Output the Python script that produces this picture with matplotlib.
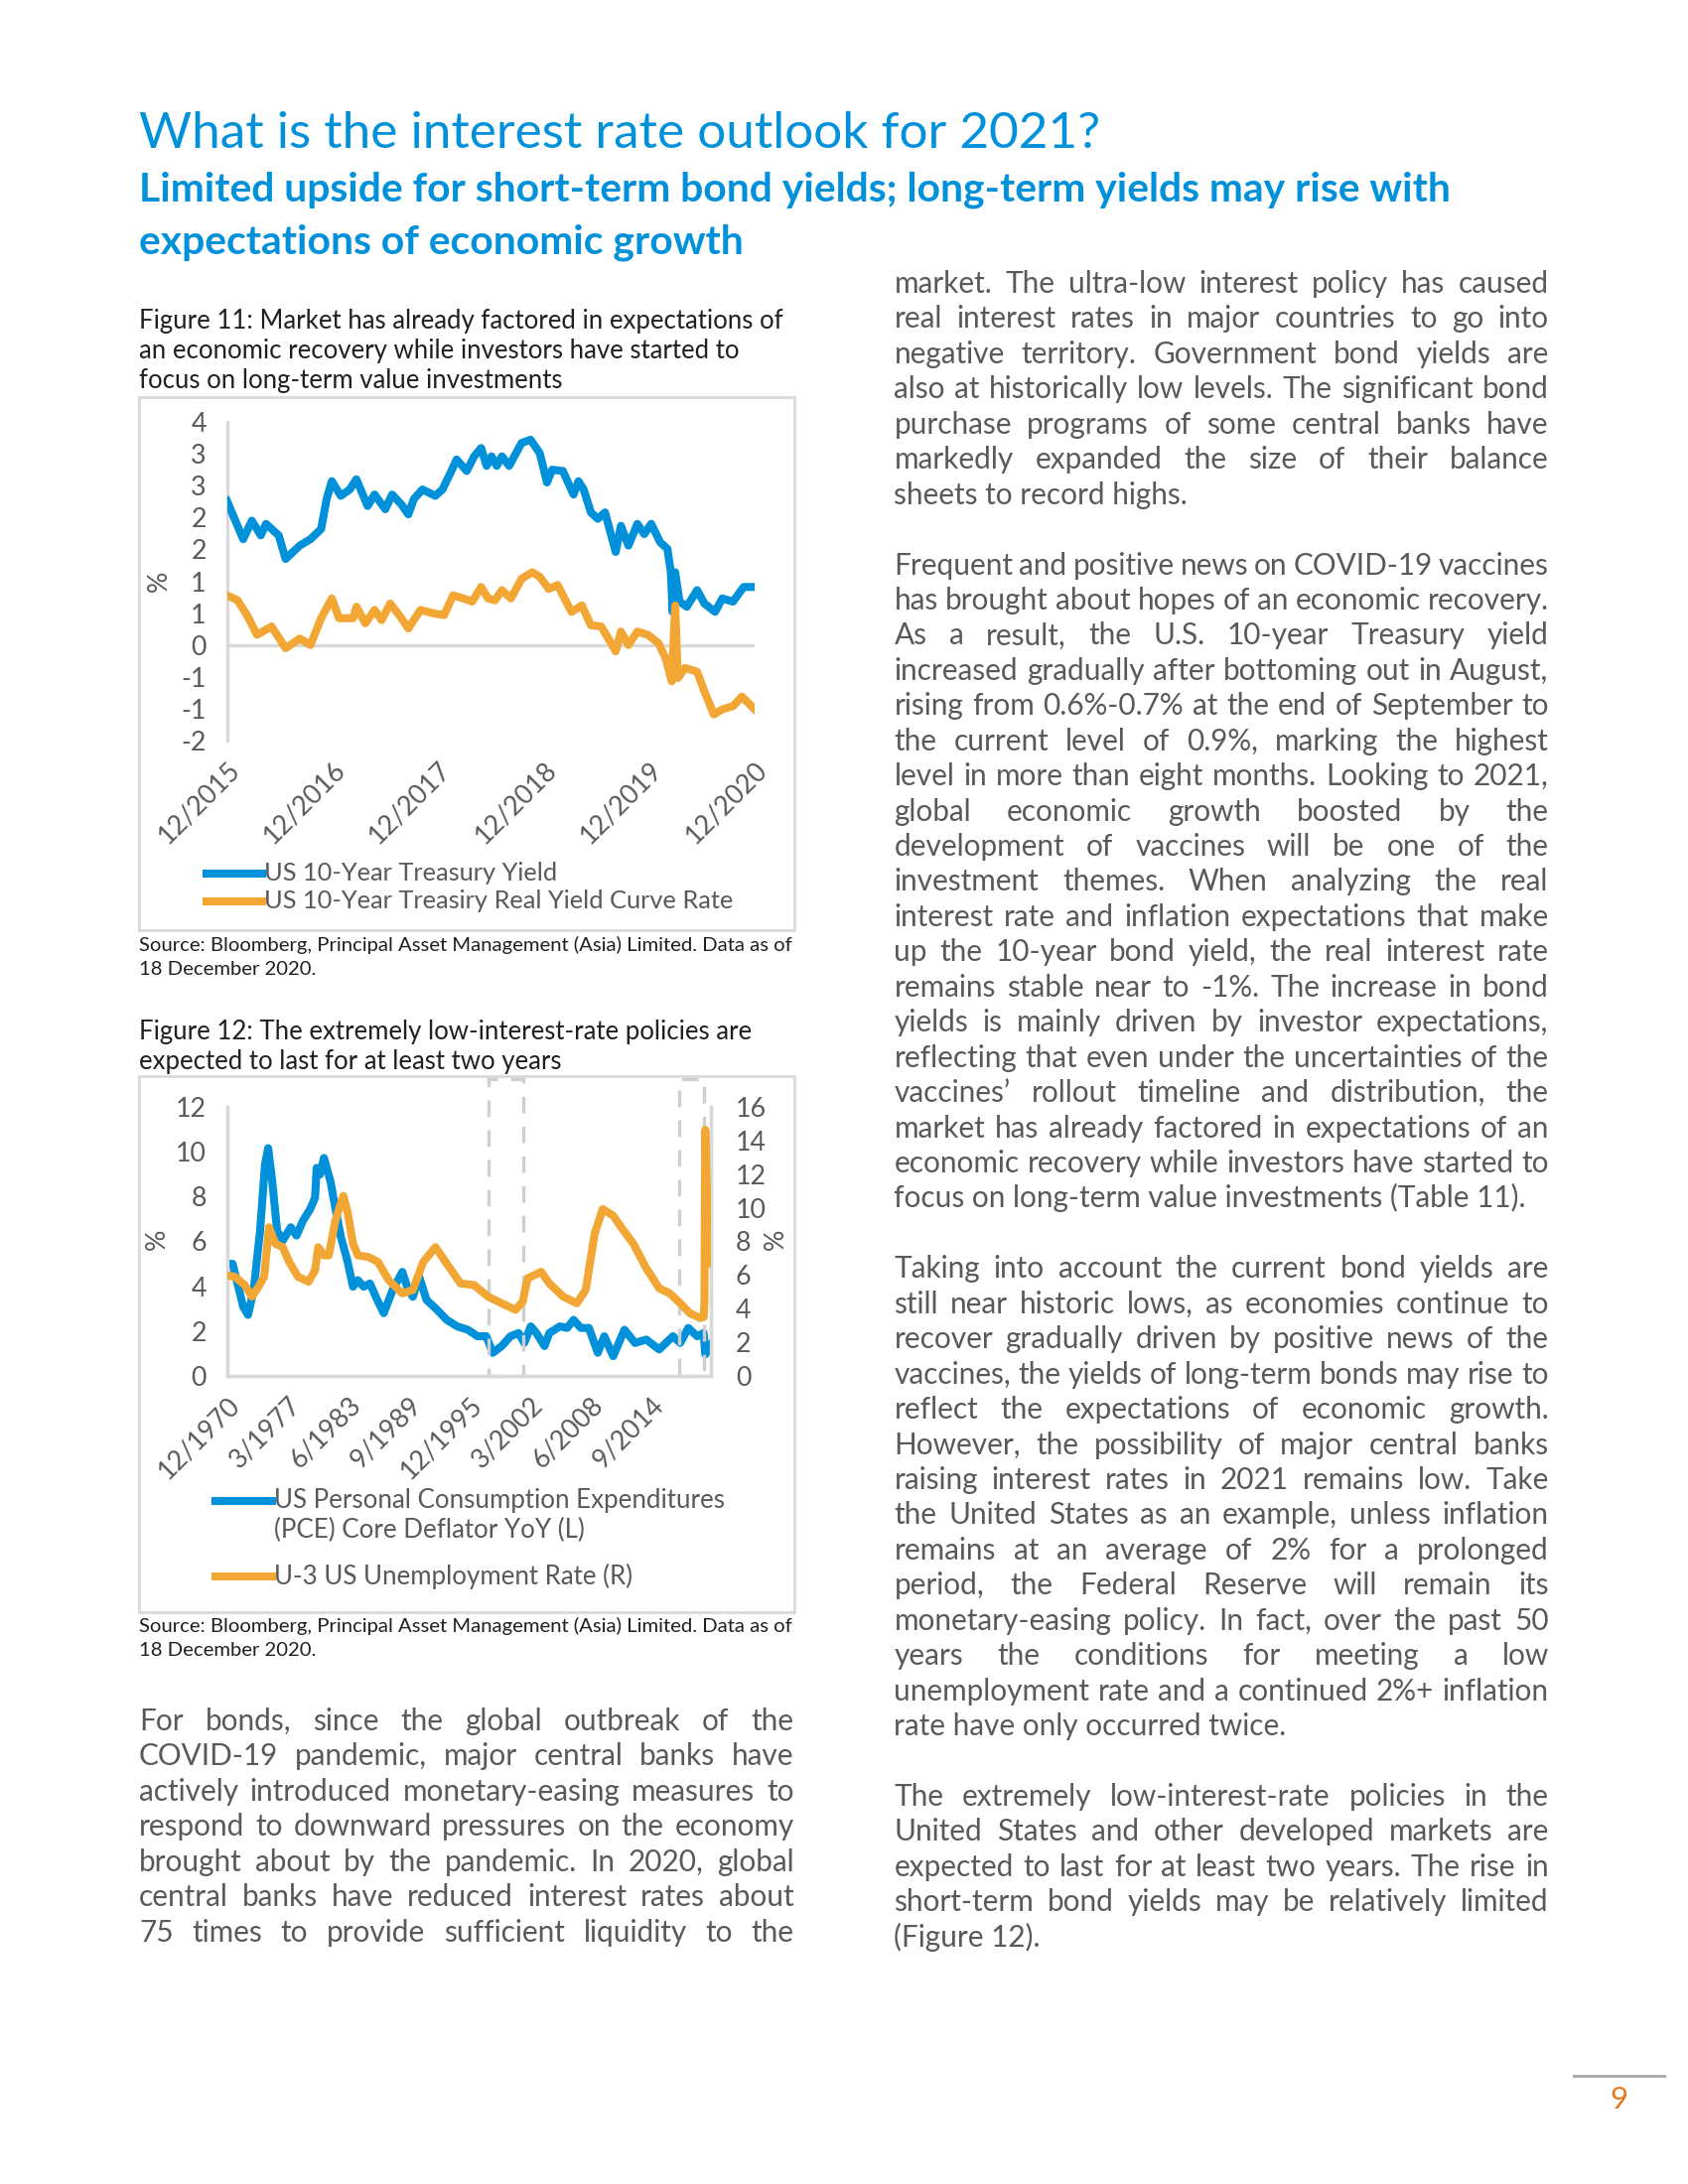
import matplotlib
matplotlib.use('Agg')
import matplotlib.pyplot as plt
from matplotlib.lines import Line2D
from matplotlib.patches import Rectangle
from matplotlib.ticker import FuncFormatter
import numpy as np
import pandas as pd

# ---- figure 11 data ----
ust_dates = ['2015-12-18', '2016-02-12', '2016-03-13', '2016-04-13', '2016-05-01', '2016-06-14',
             '2016-07-08', '2016-08-26', '2016-10-02', '2016-11-08', '2016-11-27', '2016-12-15',
             '2017-01-15', '2017-02-15', '2017-03-10', '2017-04-18', '2017-05-12', '2017-06-18',
             '2017-07-12', '2017-08-12', '2017-09-06', '2017-09-25', '2017-10-25', '2017-12-08',
             '2018-01-02', '2018-02-02', '2018-02-20', '2018-03-27', '2018-04-22', '2018-05-16',
             '2018-06-04', '2018-06-21', '2018-07-09', '2018-07-27', '2018-08-21', '2018-10-03',
             '2018-11-03', '2018-12-05', '2018-12-30', '2019-01-17', '2019-02-23', '2019-04-01',
             '2019-04-18', '2019-05-06', '2019-05-31', '2019-06-24', '2019-07-19', '2019-08-25',
             '2019-09-12', '2019-10-08', '2019-11-08', '2019-12-02', '2019-12-26', '2020-01-26',
             '2020-02-20', '2020-03-03', '2020-03-09', '2020-03-18', '2020-04-02', '2020-04-27',
             '2020-06-02', '2020-06-27', '2020-08-03', '2020-08-28', '2020-10-04', '2020-11-10',
             '2020-12-18']
ust_yield = [2.26, 1.66, 1.95, 1.72, 1.90, 1.72, 1.35, 1.56, 1.66, 1.82, 2.29, 2.57,
             2.34, 2.44, 2.60, 2.18, 2.36, 2.13, 2.36, 2.21, 2.05, 2.29, 2.44, 2.34,
             2.44, 2.73, 2.91, 2.73, 2.96, 3.09, 2.81, 2.96, 2.81, 2.96, 2.81, 3.17,
             3.22, 3.01, 2.55, 2.75, 2.73, 2.36, 2.57, 2.44, 2.08, 1.98, 2.08, 1.46,
             1.87, 1.56, 1.90, 1.74, 1.90, 1.61, 1.51, 1.14, 0.52, 1.14, 0.68, 0.60,
             0.86, 0.65, 0.52, 0.73, 0.68, 0.91, 0.91]

real_dates = ['2015-12-18', '2016-01-24', '2016-02-25', '2016-03-31', '2016-05-20', '2016-07-08',
              '2016-08-26', '2016-10-02', '2016-11-08', '2016-12-15', '2017-01-09', '2017-02-27',
              '2017-03-10', '2017-04-10', '2017-05-12', '2017-06-05', '2017-07-05', '2017-08-05',
              '2017-09-06', '2017-10-18', '2017-12-08', '2018-01-08', '2018-02-08', '2018-03-15',
              '2018-04-15', '2018-05-16', '2018-06-09', '2018-07-03', '2018-07-27', '2018-08-27',
              '2018-10-03', '2018-11-09', '2018-12-05', '2019-01-05', '2019-02-05', '2019-02-23',
              '2019-03-25', '2019-04-30', '2019-05-31', '2019-07-06', '2019-08-25', '2019-09-12',
              '2019-10-08', '2019-11-08', '2019-12-14', '2020-01-20', '2020-02-14', '2020-03-06',
              '2020-03-18', '2020-03-27', '2020-04-21', '2020-06-02', '2020-06-27', '2020-07-30',
              '2020-08-28', '2020-10-04', '2020-11-04', '2020-12-18']
real_yield = [0.78, 0.70, 0.47, 0.16, 0.29, -0.05, 0.10, 0.00, 0.42, 0.73, 0.42, 0.42,
              0.60, 0.34, 0.55, 0.39, 0.65, 0.47, 0.26, 0.55, 0.49, 0.47, 0.78, 0.73,
              0.68, 0.91, 0.73, 0.70, 0.86, 0.73, 1.04, 1.14, 1.07, 0.88, 0.94, 0.78,
              0.52, 0.62, 0.31, 0.29, -0.10, 0.21, 0.00, 0.21, 0.16, 0.03, -0.21, -0.57,
              0.62, -0.52, -0.36, -0.42, -0.73, -1.09, -1.01, -0.96, -0.81, -1.01]

fig11_ticks = ['12/2015', '12/2016', '12/2017', '12/2018', '12/2019', '12/2020']
fig11_names = ['US 10-Year Treasury Yield', 'US 10-Year Treasiry Real Yield Curve Rate']

# ---- figure 12 data ----
pce_dates = ['1970-12', '1971-07', '1972-02', '1972-08', '1973-02', '1973-09', '1974-05', '1974-11',
             '1975-03', '1975-08', '1976-02', '1976-09', '1977-07', '1978-02', '1978-10', '1979-07',
             '1980-01', '1980-03', '1980-07', '1980-12', '1981-08', '1982-02', '1982-09', '1983-05',
             '1983-12', '1984-06', '1985-01', '1985-09', '1986-06', '1987-02', '1988-01', '1989-01',
             '1989-07', '1990-02', '1990-10', '1991-07', '1992-08', '1993-08', '1994-09', '1995-10',
             '1996-10', '1997-09', '1998-05', '1999-04', '2000-03', '2001-01', '2001-08', '2002-04',
             '2002-11', '2003-09', '2004-03', '2005-04', '2006-01', '2006-09', '2007-06', '2008-04',
             '2009-03', '2009-11', '2010-10', '2011-12', '2013-01', '2014-03', '2015-07', '2016-12',
             '2017-09', '2018-07', '2019-06', '2020-02', '2020-04', '2020-11']
pce_core = [5.0, 5.0, 3.98, 3.09, 2.72, 3.83, 6.48, 9.43, 10.16, 8.69,
            6.48, 6.04, 6.63, 6.26, 6.92, 7.44, 7.95, 9.28, 8.98, 9.72,
            8.69, 7.51, 6.19, 5.15, 3.98, 4.27, 3.98, 4.12, 3.39, 2.80,
            3.83, 4.64, 3.98, 3.53, 4.42, 3.39, 2.95, 2.50, 2.21, 2.06,
            1.77, 1.77, 1.03, 1.33, 1.77, 1.91, 1.47, 2.21, 1.91, 1.33,
            1.91, 2.21, 2.14, 2.50, 2.14, 2.14, 1.03, 1.77, 0.88, 2.06,
            1.47, 1.62, 1.18, 1.77, 1.47, 2.14, 1.77, 1.91, 0.96, 1.40]

unemp_dates = ['1970-12', '1971-10', '1972-10', '1973-07', '1974-03', '1974-10', '1975-04', '1975-12',
               '1976-09', '1977-05', '1978-04', '1979-05', '1980-01', '1980-05', '1980-12', '1981-06',
               '1982-02', '1982-12', '1983-05', '1983-12', '1984-06', '1985-07', '1986-07', '1987-08',
               '1989-01', '1990-02', '1991-03', '1992-06', '1993-08', '1995-01', '1996-06', '1997-11',
               '1999-04', '2000-09', '2001-06', '2001-12', '2003-05', '2004-03', '2005-08', '2007-01',
               '2007-12', '2008-11', '2009-09', '2010-10', '2011-08', '2012-11', '2014-02', '2015-07',
               '2016-08', '2017-09', '2018-09', '2019-10', '2020-02', '2020-03', '2020-04', '2020-06',
               '2020-08', '2020-11']
unemp = [5.99, 5.89, 5.40, 4.72, 5.30, 5.89, 8.84, 7.86, 7.66, 6.78,
         5.89, 5.60, 6.29, 7.66, 7.17, 7.17, 9.23, 10.71, 9.82, 7.86,
         7.17, 7.07, 6.78, 5.70, 4.91, 5.11, 6.78, 7.66, 6.68, 5.50,
         5.40, 4.72, 4.32, 3.93, 4.42, 5.80, 6.19, 5.50, 4.72, 4.32,
         5.11, 8.45, 9.92, 9.53, 8.84, 7.86, 6.48, 5.21, 4.91, 4.32,
         3.73, 3.44, 3.50, 4.40, 14.64, 11.10, 8.40, 6.70]

# periods boxed with dashed lines (start, end)
boxed = [('1997-12', '2001-07'), ('2017-08', '2020-02')]

fig12_ticks = ['12/1970', '3/1977', '6/1983', '9/1989', '12/1995', '3/2002', '6/2008', '9/2014']
fig12_names = [['US Personal Consumption Expenditures', '(PCE) Core Deflator YoY (L)'],
               ['U-3 US Unemployment Rate (R)']]

# ---- page text ----
title = 'What is the interest rate outlook for 2021?'
subtitle = ['Limited upside for short-term bond yields; long-term yields may rise with',
            'expectations of economic growth']
cap11 = ['Figure 11: Market has already factored in expectations of',
         'an economic recovery while investors have started to',
         'focus on long-term value investments']
cap12 = ['Figure 12: The extremely low-interest-rate policies are',
         'expected to last for at least two years']
source = ['Source: Bloomberg, Principal Asset Management (Asia) Limited. Data as of',
          '18 December 2020.']

left_par = ['For bonds, since the global outbreak of the',
            'COVID-19 pandemic, major central banks have',
            'actively introduced monetary-easing measures to',
            'respond to downward pressures on the economy',
            'brought about by the pandemic. In 2020, global',
            'central banks have reduced interest rates about',
            '75 times to provide sufficient liquidity to the']

right_pars = [
    ['market. The ultra-low interest policy has caused',
     'real interest rates in major countries to go into',
     'negative territory. Government bond yields are',
     'also at historically low levels. The significant bond',
     'purchase programs of some central banks have',
     'markedly expanded the size of their balance',
     'sheets to record highs.'],
    ['Frequent and positive news on COVID-19 vaccines',
     'has brought about hopes of an economic recovery.',
     'As a result, the U.S. 10-year Treasury yield',
     'increased gradually after bottoming out in August,',
     'rising from 0.6%-0.7% at the end of September to',
     'the current level of 0.9%, marking the highest',
     'level in more than eight months. Looking to 2021,',
     'global economic growth boosted by the',
     'development of vaccines will be one of the',
     'investment themes. When analyzing the real',
     'interest rate and inflation expectations that make',
     'up the 10-year bond yield, the real interest rate',
     'remains stable near to -1%. The increase in bond',
     'yields is mainly driven by investor expectations,',
     'reflecting that even under the uncertainties of the',
     'vaccines\u2019 rollout timeline and distribution, the',
     'market has already factored in expectations of an',
     'economic recovery while investors have started to',
     'focus on long-term value investments (Table 11).'],
    ['Taking into account the current bond yields are',
     'still near historic lows, as economies continue to',
     'recover gradually driven by positive news of the',
     'vaccines, the yields of long-term bonds may rise to',
     'reflect the expectations of economic growth.',
     'However, the possibility of major central banks',
     'raising interest rates in 2021 remains low. Take',
     'the United States as an example, unless inflation',
     'remains at an average of 2% for a prolonged',
     'period, the Federal Reserve will remain its',
     'monetary-easing policy. In fact, over the past 50',
     'years the conditions for meeting a low',
     'unemployment rate and a continued 2%+ inflation',
     'rate have only occurred twice.'],
    ['The extremely low-interest-rate policies in the',
     'United States and other developed markets are',
     'expected to last for at least two years. The rise in',
     'short-term bond yields may be relatively limited',
     '(Figure 12).'],
]

W, H, DPI = 1700, 2200, 200
FONT = 'Lato'
BLUE = '#0091DA'
GOLD = '#F2A634'
BODY = '#58595B'
DARK = '#231F20'
TICK = '#595959'
FRAME = '#D9D9D9'

fig = plt.figure(figsize=(W / DPI, H / DPI), dpi=DPI)
fig.patch.set_facecolor('white')
rend = fig.canvas.get_renderer()


def fx(x):
    return x / W


def fy(y):
    return 1 - y / H


def text_w(s, size, **kw):
    t = fig.text(0, 0, s, fontsize=size, family=FONT, **kw)
    w = t.get_window_extent(rend).width
    t.remove()
    return w


def fit(s, target, **kw):
    return 10 * target / text_w(s, 10, **kw)


def put_line(s, x0, x1, y, size, color, justify):
    if not justify:
        fig.text(fx(x0), fy(y), s, fontsize=size, family=FONT, color=color, va='baseline')
        return
    words = s.split()
    objs = [fig.text(0, fy(y), w, fontsize=size, family=FONT, color=color, va='baseline') for w in words]
    widths = [o.get_window_extent(rend).width for o in objs]
    gap = (x1 - x0 - sum(widths)) / (len(words) - 1)
    x = x0
    for o, w in zip(objs, widths):
        o.set_x(fx(x))
        x += w + gap


body_fs = fit('has brought about hopes of an economic recovery.', 662)
step = 35.44

# headings
title_fs = fit(title, 971)
fig.text(fx(140), fy(149), title, fontsize=title_fs, family=FONT,
         color=BLUE, va='baseline')
sub_fs = fit(subtitle[0], 1325, fontweight='bold')
for i, s in enumerate(subtitle):
    fig.text(fx(140), fy(203 + i * 52), s, fontsize=sub_fs, family=FONT, fontweight='bold',
             color=BLUE, va='baseline')

# captions and sources
cap_fs = fit(cap11[0], 648)
for i, s in enumerate(cap11):
    fig.text(fx(140), fy(331 + i * 30), s, fontsize=cap_fs, family=FONT, color=DARK, va='baseline')
for i, s in enumerate(cap12):
    fig.text(fx(140), fy(1047 + i * 30), s, fontsize=cap_fs, family=FONT, color=DARK, va='baseline')
src_fs = fit(source[0], 658)
for y0 in (958, 1644):
    for i, s in enumerate(source):
        fig.text(fx(140), fy(y0 + i * 24.5), s, fontsize=src_fs, family=FONT, color=DARK, va='baseline')

# body text
for i, s in enumerate(left_par):
    put_line(s, 140, 799.5, 1743 + i * step, body_fs, BODY, True)
row = 0
for par in right_pars:
    for i, s in enumerate(par):
        put_line(s, 900.5, 1559.7, 295 + row * step, body_fs, BODY, i < len(par) - 1)
        row += 1
    row += 1

# chart frames
for top, bot in ((400, 937), (1084, 1624)):
    fig.add_artist(Rectangle((fx(140), fy(bot)), 660 / W, (bot - top) / H, fill=False,
                             ec=FRAME, lw=1.0, transform=fig.transFigure))

leg_fs = fit(fig11_names[1], 475)
tick_fs = leg_fs * 1.05
LW = 2.9


def excel_round(v, _):
    return '%d' % (np.sign(v) * np.floor(abs(v) + 0.5))


def style(ax):
    for sp in ax.spines.values():
        sp.set_color(FRAME)
        sp.set_linewidth(1.2)
    ax.tick_params(length=0, labelsize=tick_fs, labelcolor=TICK)
    for lab in ax.get_yticklabels() + ax.get_xticklabels():
        lab.set_family(FONT)


# ---- figure 11 ----
ax1 = fig.add_axes([fx(228.6), fy(746), (760 - 228.6) / W, (746 - 425) / H])
ax1.axhline(0, color=FRAME, lw=1.2, zorder=1)
ax1.plot(pd.to_datetime(ust_dates), ust_yield, color=BLUE, lw=LW, zorder=3)
ax1.plot(pd.to_datetime(real_dates), real_yield, color=GOLD, lw=LW, zorder=3)
ax1.set_ylim(-1.5, 3.5)
ax1.set_yticks(np.arange(-1.5, 3.51, 0.5))
ax1.yaxis.set_major_formatter(FuncFormatter(excel_round))
t11 = pd.to_datetime(fig11_ticks, format='%m/%Y') + pd.Timedelta(days=17)
ax1.set_xlim(t11[0], t11[-1])
ax1.set_xticks(t11)
ax1.set_xticklabels(fig11_ticks, rotation=45, ha='right', rotation_mode='anchor')
for s in ('top', 'right', 'bottom'):
    ax1.spines[s].set_visible(False)
style(ax1)
ax1.tick_params(axis='y', pad=7.5)
ax1.tick_params(axis='x', pad=6)
fig.text(fx(160), fy(585), '%', rotation=90, ha='center', va='center', fontsize=tick_fs,
         family=FONT, color=TICK)

for k, (name, col) in enumerate(zip(fig11_names, [BLUE, GOLD])):
    y = 879.5 + k * 28
    fig.add_artist(Line2D([fx(207.6), fx(263.7)], [fy(y), fy(y)], color=col, lw=LW,
                          transform=fig.transFigure))
    fig.text(fx(266), fy(y), name, fontsize=leg_fs, family=FONT, color=TICK, va='center')

# ---- figure 12 ----
ax2 = fig.add_axes([fx(228.6), fy(1386), (716 - 228.6) / W, (1386 - 1115) / H])
ax2.plot(pd.to_datetime(pce_dates), pce_core, color=BLUE, lw=LW, zorder=3)
ax2.set_ylim(0, 12)
ax2.set_yticks(np.arange(0, 12.1, 2))
t12 = pd.to_datetime(fig12_ticks, format='%m/%Y')
ax2.set_xlim(pd.Timestamp('1970-12-01'), pd.Timestamp('2020-11-01'))
ax2.set_xticks(t12)
ax2.set_xticklabels(fig12_ticks, rotation=45, ha='right', rotation_mode='anchor')
ax2r = ax2.twinx()
ax2r.plot(pd.to_datetime(unemp_dates), unemp, color=GOLD, lw=LW, zorder=3)
ax2r.set_ylim(0, 16)
ax2r.set_yticks(np.arange(0, 16.1, 2))
for a0, a1 in boxed:
    ax2r.axvspan(pd.Timestamp(a0), pd.Timestamp(a1), ymin=0, ymax=(1388 - 1089) / (1386 - 1115),
                 fill=False, ec='#CFCFCF', lw=1.2, ls=(0, (5, 4)), clip_on=False, zorder=2)
for a in (ax2, ax2r):
    a.spines['top'].set_visible(False)
    style(a)
ax2.tick_params(axis='y', pad=7.5)
ax2.tick_params(axis='x', pad=6)
ax2r.tick_params(axis='y', pad=9)
fig.text(fx(158), fy(1248), '%', rotation=90, ha='center', va='center', fontsize=tick_fs,
         family=FONT, color=TICK)
fig.text(fx(781), fy(1248), '%', rotation=90, ha='center', va='center', fontsize=tick_fs,
         family=FONT, color=TICK)

leg2_fs = fit(fig12_names[0][0], 454)
for lines, col, y in zip(fig12_names, [BLUE, GOLD], [1512, 1588]):
    fig.add_artist(Line2D([fx(217), fx(273.5)], [fy(y), fy(y)], color=col, lw=LW,
                          transform=fig.transFigure))
    for i, s in enumerate(lines):
        fig.text(fx(276), fy(y + i * 29.5), s, fontsize=leg2_fs, family=FONT, color=TICK, va='center')

# page number
fig.add_artist(Line2D([fx(1585), fx(1676)], [fy(2091), fy(2091)], color='#A6A6A6', lw=1.0,
                      transform=fig.transFigure))
fig.text(fx(1630), fy(2115), '9', fontsize=body_fs * 1.05, family=FONT, color='#E87722',
         ha='center', va='center')

fig.savefig('out.png', dpi=DPI)
